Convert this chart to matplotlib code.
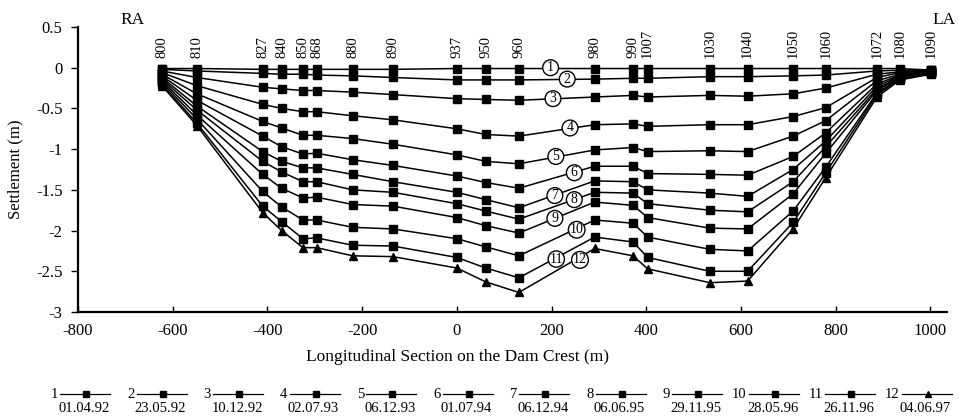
import matplotlib
matplotlib.use("Agg")
import matplotlib.pyplot as plt
from matplotlib.lines import Line2D

plt.rcParams['font.family'] = ['Liberation Serif', 'DejaVu Serif']
plt.rcParams['axes.unicode_minus'] = False

# ---------------- data ----------------
station_names = ["800", "810", "827", "840", "850", "868", "880", "890", "937", "950", "960",
                 "980", "990", "1007", "1030", "1040", "1050", "1060", "1072", "1080", "1090"]
station_x = [-623, -549, -410, -370, -325, -296, -220, -135, 0, 61, 131,
             291, 372, 403, 534, 614, 710, 779, 887, 936, 1001]

c1 = [-0.01, -0.01, -0.02, -0.02, -0.02, -0.02, -0.02, -0.02, -0.01, -0.01, -0.01, -0.01, -0.01, -0.01, -0.01, -0.01, -0.01, -0.01, -0.01, -0.01, -0.03]
c2 = [-0.02, -0.04, -0.07, -0.08, -0.08, -0.09, -0.10, -0.12, -0.15, -0.15, -0.15, -0.14, -0.13, -0.13, -0.11, -0.11, -0.10, -0.09, -0.04, -0.03, -0.03]
c3 = [-0.04, -0.12, -0.24, -0.26, -0.28, -0.28, -0.30, -0.33, -0.38, -0.39, -0.40, -0.36, -0.34, -0.36, -0.34, -0.35, -0.32, -0.25, -0.08, -0.05, -0.03]
c4 = [-0.06, -0.22, -0.45, -0.50, -0.54, -0.54, -0.59, -0.64, -0.75, -0.82, -0.84, -0.70, -0.69, -0.72, -0.70, -0.70, -0.60, -0.49, -0.12, -0.06, -0.04]
c5 = [-0.08, -0.32, -0.66, -0.74, -0.83, -0.83, -0.87, -0.94, -1.07, -1.15, -1.18, -1.01, -0.98, -1.03, -1.02, -1.03, -0.84, -0.65, -0.16, -0.08, -0.04]
c6 = [-0.10, -0.40, -0.84, -0.97, -1.06, -1.05, -1.13, -1.20, -1.33, -1.41, -1.48, -1.21, -1.21, -1.30, -1.31, -1.32, -1.09, -0.80, -0.20, -0.09, -0.05]
c7 = [-0.12, -0.47, -1.03, -1.15, -1.23, -1.23, -1.31, -1.40, -1.53, -1.62, -1.72, -1.39, -1.40, -1.50, -1.54, -1.58, -1.25, -0.90, -0.23, -0.10, -0.05]
c8 = [-0.14, -0.52, -1.15, -1.28, -1.40, -1.40, -1.50, -1.53, -1.67, -1.76, -1.86, -1.53, -1.54, -1.67, -1.75, -1.77, -1.40, -0.97, -0.26, -0.11, -0.06]
c9 = [-0.16, -0.58, -1.31, -1.48, -1.60, -1.59, -1.68, -1.70, -1.84, -1.94, -2.03, -1.65, -1.69, -1.84, -1.97, -1.98, -1.55, -1.05, -0.28, -0.12, -0.06]
c10 = [-0.18, -0.63, -1.52, -1.71, -1.87, -1.87, -1.96, -1.98, -2.10, -2.20, -2.31, -1.87, -1.91, -2.08, -2.23, -2.25, -1.76, -1.22, -0.31, -0.13, -0.07]
c11 = [-0.20, -0.68, -1.70, -1.89, -2.10, -2.09, -2.18, -2.19, -2.33, -2.46, -2.58, -2.08, -2.14, -2.33, -2.50, -2.50, -1.90, -1.29, -0.33, -0.14, -0.07]
c12 = [-0.22, -0.71, -1.78, -2.00, -2.21, -2.21, -2.31, -2.32, -2.46, -2.63, -2.76, -2.22, -2.31, -2.47, -2.64, -2.62, -1.98, -1.35, -0.36, -0.15, -0.08]

series = [c1, c2, c3, c4, c5, c6, c7, c8, c9, c10, c11, c12]
dates = ["01.04.92", "23.05.92", "10.12.92", "02.07.93", "06.12.93", "01.07.94",
         "06.12.94", "06.06.95", "29.11.95", "28.05.96", "26.11.96", "04.06.97"]
markers = ['s'] * 11 + ['^']

# circled curve-number label positions (data coords)
label_x = [198, 233, 203, 239, 209, 248, 207, 248, 207, 253, 210, 260]
label_y = [0.0, -0.14, -0.38, -0.74, -1.09, -1.29, -1.57, -1.62, -1.85, -1.99, -2.35, -2.36]

xticks = [-800, -600, -400, -200, 0, 200, 400, 600, 800, 1000]
yticks = [0.5, 0, -0.5, -1, -1.5, -2, -2.5, -3]
ytick_labels = ["0.5", "0", "-0.5", "-1", "-1.5", "-2", "-2.5", "-3"]

# ---------------- figure ----------------
W, H = 959, 416
fig = plt.figure(figsize=(W / 100, H / 100), dpi=100)
ax = fig.add_axes([78 / W, 1 - 312 / H, (947 - 78) / W, (312 - 27) / H])

for i, ys in enumerate(series):
    ax.plot(station_x, ys, color='black', lw=1.1, marker=markers[i], ms=5.8,
            mfc='black', mec='black', zorder=3, clip_on=False)

for i in range(12):
    ax.text(label_x[i], label_y[i], str(i + 1), ha='center', va='center', fontsize=10,
            zorder=5, bbox=dict(boxstyle='circle,pad=0.1', fc='white', ec='black', lw=1.0))

for name, x in zip(station_names, station_x):
    ax.text(x, 0.12, name, rotation=90, ha='center', va='bottom', fontsize=10.5, clip_on=False)

ax.text(-684, 0.58, "RA", ha='center', va='center', fontsize=12.5, clip_on=False)
ax.text(1028, 0.58, "LA", ha='center', va='center', fontsize=12.5, clip_on=False)

ax.set_xlim(-800, 1035)
ax.set_ylim(-3, 0.5)
ax.set_xticks(xticks)
ax.set_xticklabels([str(t) for t in xticks])
ax.set_yticks(yticks)
ax.set_yticklabels(ytick_labels)
for s in ['top', 'right']:
    ax.spines[s].set_visible(False)
for s in ['left', 'bottom']:
    ax.spines[s].set_linewidth(1.6)
ax.tick_params(axis='x', direction='in', length=4, width=1, pad=8, labelsize=12)
ax.tick_params(axis='y', direction='out', length=5, width=1, pad=6, labelsize=12)

ax.set_ylabel("Settlement (m)", fontsize=12, labelpad=9)
fig.text(458 / W, 1 - 357 / H, "Longitudinal Section on the Dam Crest (m)",
         ha='center', va='center', fontsize=12.5)

# ---------------- legend (manual, figure coords) ----------------
for i in range(12):
    mx = 86 + i * 76.5
    ly = 1 - 394 / H
    fig.add_artist(Line2D([(mx - 26) / W, (mx + 24) / W], [ly, ly], color='black', lw=0.9,
                          transform=fig.transFigure))
    fig.add_artist(Line2D([mx / W], [ly], marker=markers[i], ms=5, color='black',
                          transform=fig.transFigure))
    fig.text((mx - 28) / W, ly, str(i + 1), ha='right', va='center', fontsize=10.5)
    fig.text((mx - 2) / W, 1 - 408 / H, dates[i], ha='center', va='center', fontsize=10.5)

fig.savefig("out.png", dpi=100)
